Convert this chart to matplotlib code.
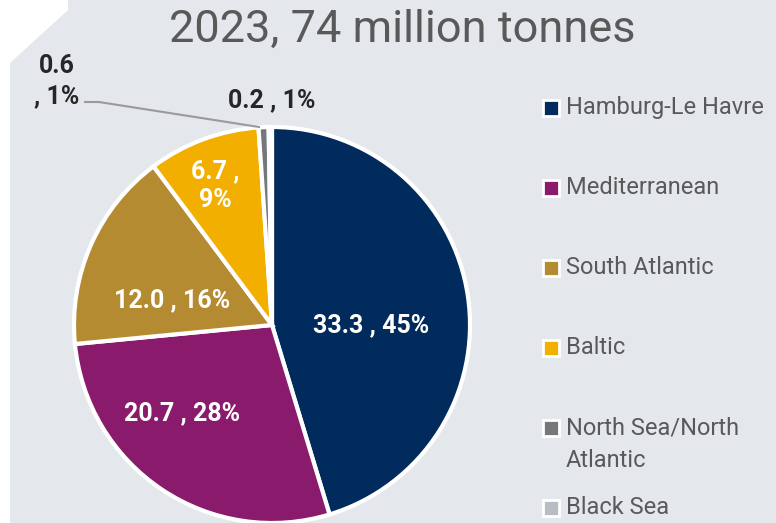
import matplotlib
matplotlib.use("Agg")
import matplotlib.pyplot as plt
from matplotlib.patches import Polygon, Rectangle
from matplotlib.lines import Line2D

plt.rcParams['font.family'] = ['Liberation Sans Narrow', 'Roboto', 'DejaVu Sans']

# Port ranges, 2023 throughput (million tonnes)
regions = ['Hamburg-Le Havre', 'Mediterranean', 'South Atlantic', 'Baltic',
           'North Sea/North\nAtlantic', 'Black Sea']
tonnes = [33.3, 20.7, 12.0, 6.7, 0.6, 0.2]
shares = ['45%', '28%', '16%', '9%', '1%', '1%']
colors = ['#002B5C', '#8A1A6B', '#B58B31', '#F2AF00', '#75787B', '#B8BDC3']

W, H = 776, 523
BG = '#E4E7EC'

def fx(x):
    return x / W

def fy(y):
    return 1 - y / H

fig = plt.figure(figsize=(W / 100, H / 100), dpi=100, facecolor=BG)

# white cut-off corner and left strip
fig.add_artist(Polygon([(fx(0), fy(0)), (fx(68), fy(0)), (fx(68), fy(10)),
                        (fx(10), fy(63)), (fx(10), fy(H)), (fx(0), fy(H))],
                       closed=True, facecolor='white', edgecolor='none',
                       transform=fig.transFigure))

# pie: centre (272, 325), radius 198 px
cx, cy, r = 272, 325, 198
ax = fig.add_axes([fx(cx - r), fy(cy + r), 2 * r / W, 2 * r / H])
ax.pie(tonnes, colors=colors, startangle=90, counterclock=False,
       wedgeprops=dict(edgecolor='white', linewidth=3))
ax.set_xlim(-1.0, 1.0)
ax.set_ylim(-1.0, 1.0)
ax.set_aspect('equal')
ax.axis('off')

fig.text(fx(402), fy(30), '2023, 74 million tonnes', ha='center', va='center',
         fontsize=32.5, color='#595959')

def lab(i, sep=' , '):
    return f'{tonnes[i]:.1f}{sep}{shares[i]}'

# slice labels
inside = [(0, 371, 325, ' , '), (1, 182, 413, ' , '), (2, 172, 300, ' , '),
          (3, 215, 186, ' ,\n')]
for i, x, y, sep in inside:
    fig.text(fx(x), fy(y), lab(i, sep), ha='center', va='center', fontsize=18,
             fontweight='bold', color='white', linespacing=1.25)

fig.text(fx(57), fy(81), lab(4, '\n, '), ha='center', va='center', fontsize=18,
         fontweight='bold', color='#262626', linespacing=1.3)
fig.text(fx(272), fy(100), lab(5), ha='center', va='center', fontsize=18,
         fontweight='bold', color='#262626')
fig.add_artist(Line2D([fx(85), fx(99), fx(259)], [fy(102), fy(102), fy(127)],
                      color='#9A9A9A', linewidth=1.5))

# legend
ly = [108, 188, 268, 348, 428, 508]
for name, c, y in zip(regions, colors, ly):
    fig.add_artist(Rectangle((fx(543), fy(y + 8)), 16 / W, 16 / H,
                             facecolor=c, edgecolor='white', linewidth=2,
                             transform=fig.transFigure))
    if '\n' in name:
        fig.text(fx(566), fy(y - 12), name, ha='left', va='top',
                 fontsize=17, color='#595959', linespacing=1.55)
    else:
        fig.text(fx(566), fy(y), name, ha='left', va='center',
                 fontsize=17, color='#595959')

fig.savefig('out.png', dpi=100, facecolor=BG)
